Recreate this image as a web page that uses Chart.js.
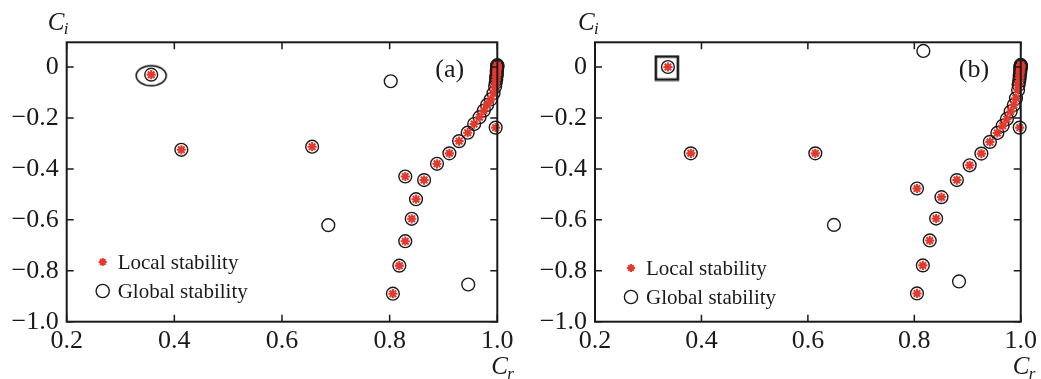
<!DOCTYPE html>
<html>
<head>
<meta charset="utf-8">
<script src="https://cdn.jsdelivr.net/npm/chart.js@4.4.1/dist/chart.umd.min.js"></script>
<style>
  body { margin: 0; background: #fff; }
  #wrap { position: relative; width: 1041px; height: 379px; }
  canvas { position: absolute; top: 0; }
</style>
</head>
<body>
<div id="wrap">
  <canvas id="ca" width="520" height="379" style="left:0"></canvas>
  <canvas id="cb" width="521" height="379" style="left:520px"></canvas>
</div>
<script>
// tick values
var xTicks = [0.2, 0.4, 0.6, 0.8, 1.0];
var yTicks = [-1.0, -0.8, -0.6, -0.4, -0.2, 0];

// panel (a): local stability (asterisks)
var aLocalX = [0.357, 0.413, 0.656, 0.806, 0.818, 0.829, 0.841, 0.849, 0.829, 0.864,
  0.888, 0.911, 0.929, 0.945, 0.957, 0.967, 0.975, 0.981, 0.988, 0.993, 0.996, 0.997,
  0.997, 0.998, 0.998, 0.999, 0.999, 0.999, 0.9995, 0.9995, 1.0, 1.0, 1.0, 1.0];
var aLocalY = [-0.030, -0.325, -0.313, -0.890, -0.780, -0.684, -0.596, -0.519, -0.430, -0.444,
  -0.380, -0.339, -0.291, -0.258, -0.224, -0.197, -0.171, -0.149, -0.127, -0.103, -0.077, -0.238,
  -0.062, -0.050, -0.040, -0.031, -0.024, -0.017, -0.011, -0.006, -0.002, 0.002, 0.005, 0.007];
// panel (a): global stability (circles)
var aGlobalX = aLocalX.concat([0.802, 0.686, 0.946]);
var aGlobalY = aLocalY.concat([-0.056, -0.621, -0.854]);
// panel (a): highlighted root
var aMarkX = [0.357];
var aMarkY = [-0.034];

// panel (b): local stability
var bLocalX = [0.337, 0.380, 0.614, 0.805, 0.816, 0.829, 0.841, 0.805, 0.851, 0.880,
  0.904, 0.926, 0.942, 0.956, 0.966, 0.974, 0.981, 0.987, 0.991, 0.995, 0.998,
  0.996, 0.997, 0.998, 0.998, 0.999, 0.999, 0.9995, 0.9995, 1.0, 1.0, 1.0, 1.0];
var bLocalY = [0.000, -0.339, -0.339, -0.889, -0.779, -0.681, -0.595, -0.477, -0.511, -0.444,
  -0.386, -0.340, -0.294, -0.259, -0.231, -0.204, -0.175, -0.149, -0.123, -0.090, -0.238,
  -0.070, -0.055, -0.043, -0.033, -0.024, -0.016, -0.010, -0.005, -0.001, 0.003, 0.006, 0.008];
// panel (b): global stability
var bGlobalX = bLocalX.concat([0.817, 0.649, 0.884]);
var bGlobalY = bLocalY.concat([0.063, -0.620, -0.842]);
// panel (b): highlighted root
var bMarkX = [0.335];
var bMarkY = [-0.004];

var RED = '#e5382d';
var INK = '#1a1a1a';
var SERIF = '"Liberation Serif", "DejaVu Serif", serif';

function pts(xs, ys) {
  return xs.map(function (x, i) { return { x: x, y: ys[i] }; });
}

function ellipseImg() {
  var c = document.createElement('canvas');
  c.width = 34; c.height = 24;
  var g = c.getContext('2d');
  g.strokeStyle = '#000'; g.lineWidth = 1.5;
  g.beginPath(); g.ellipse(17, 12, 15, 10, 0, 0, Math.PI * 2); g.stroke();
  return c;
}
function squareImg() {
  var c = document.createElement('canvas');
  c.width = 26; c.height = 27;
  var g = c.getContext('2d');
  g.strokeStyle = INK; g.lineWidth = 2.6;
  g.strokeRect(2, 2, 22, 23);
  return c;
}

// frame, inward ticks on all sides, axis names, panel letter, legend
var decor = {
  id: 'decor',
  afterDraw: function (chart, args, o) {
    var ctx = chart.ctx, a = chart.chartArea;
    var xs = chart.scales.x, ys = chart.scales.y;
    ctx.save();
    ctx.strokeStyle = INK; ctx.lineWidth = 2;
    ctx.strokeRect(a.left, a.top, a.right - a.left, a.bottom - a.top);
    ctx.lineWidth = 1.5;
    ctx.beginPath();
    xTicks.forEach(function (v) {
      var px = xs.getPixelForValue(v);
      ctx.moveTo(px, a.bottom); ctx.lineTo(px, a.bottom - 7);
      ctx.moveTo(px, a.top); ctx.lineTo(px, a.top + 7);
    });
    yTicks.forEach(function (v) {
      var py = ys.getPixelForValue(v);
      ctx.moveTo(a.left, py); ctx.lineTo(a.left + 7, py);
      ctx.moveTo(a.right, py); ctx.lineTo(a.right - 7, py);
    });
    ctx.stroke();

    ctx.fillStyle = INK;
    ctx.textBaseline = 'alphabetic';
    ctx.textAlign = 'left';
    // axis names
    ctx.font = 'italic 25px ' + SERIF;
    ctx.fillText('C', a.left + o.ciDx, 30);
    ctx.fillText('C', a.right + o.crDx, 374);
    ctx.font = 'italic 17px ' + SERIF;
    ctx.fillText('i', a.left + o.ciDx + 16, 34);
    ctx.fillText('r', a.right + o.crDx + 16, 379);
    // panel letter
    ctx.font = '26px ' + SERIF;
    ctx.textAlign = 'center';
    ctx.fillText(o.letter, a.left + o.letterDx, 77);

    // legend
    var lx = a.left + 36, ly1 = o.legY, ly2 = o.legY + 29;
    ctx.strokeStyle = RED; ctx.lineWidth = 2;
    ctx.beginPath();
    for (var k = 0; k < 4; k++) {
      var ang = k * Math.PI / 4;
      ctx.moveTo(lx - 4 * Math.cos(ang), ly1 - 4 * Math.sin(ang));
      ctx.lineTo(lx + 4 * Math.cos(ang), ly1 + 4 * Math.sin(ang));
    }
    ctx.stroke();
    ctx.strokeStyle = INK; ctx.lineWidth = 1.4;
    ctx.beginPath(); ctx.arc(lx, ly2, 6.6, 0, Math.PI * 2); ctx.stroke();
    ctx.font = '21px ' + SERIF;
    ctx.textAlign = 'left';
    ctx.textBaseline = 'middle';
    ctx.fillText('Local stability', lx + 15, ly1 + 1);
    ctx.fillText('Global stability', lx + 15, ly2 + 1);
    ctx.restore();
  }
};

function makeChart(id, local, global, mark, markImg, yAxisW, padRight, deco) {
  return new Chart(document.getElementById(id), {
    type: 'scatter',
    data: {
      datasets: [
        { label: 'Local stability', data: local, pointStyle: 'star', radius: 4.6,
          borderColor: RED, backgroundColor: RED, borderWidth: 2.1, clip: false },
        { label: 'Global stability', data: global, pointStyle: 'circle', radius: 6.4,
          borderColor: INK, backgroundColor: 'rgba(0,0,0,0)', borderWidth: 1.4, clip: false },
        { label: 'mark', data: mark, pointStyle: markImg, radius: 10, clip: false }
      ]
    },
    options: {
      responsive: false,
      animation: false,
      events: [],
      layout: { padding: { top: 42.3, right: padRight, bottom: 0, left: 0 } },
      plugins: { legend: { display: false }, tooltip: { enabled: false }, decor: deco },
      scales: {
        x: {
          type: 'linear', min: 0.2, max: 1.0,
          grid: { display: false, drawTicks: false }, border: { display: false },
          afterBuildTicks: function (s) { s.ticks = xTicks.map(function (v) { return { value: v }; }); },
          afterFit: function (s) { s.height = 57.3; },
          ticks: { padding: 4, color: INK, font: { family: SERIF, size: 26 },
            callback: function (v) { return v.toFixed(1); } }
        },
        y: {
          type: 'linear', min: -1.0, max: 0.097,
          grid: { display: false, drawTicks: false }, border: { display: false },
          afterBuildTicks: function (s) { s.ticks = yTicks.map(function (v) { return { value: v }; }); },
          afterFit: function (s) { s.width = yAxisW; },
          ticks: { padding: 8, color: INK, font: { family: SERIF, size: 26 },
            callback: function (v) { return Math.abs(v) < 1e-9 ? '0' : '\u2212' + Math.abs(v).toFixed(1); } }
        }
      }
    },
    plugins: [decor]
  });
}

makeChart('ca', pts(aLocalX, aLocalY), pts(aGlobalX, aGlobalY), pts(aMarkX, aMarkY), ellipseImg(),
  66.7, 22.7, { ciDx: -19, crDx: -6, letter: '(a)', letterDx: 383, legY: 262 });
makeChart('cb', pts(bLocalX, bLocalY), pts(bGlobalX, bGlobalY), pts(bMarkX, bMarkY), squareImg(),
  75, 15.7, { ciDx: -17, crDx: -8, letter: '(b)', letterDx: 379, legY: 268 });
</script>
</body>
</html>
